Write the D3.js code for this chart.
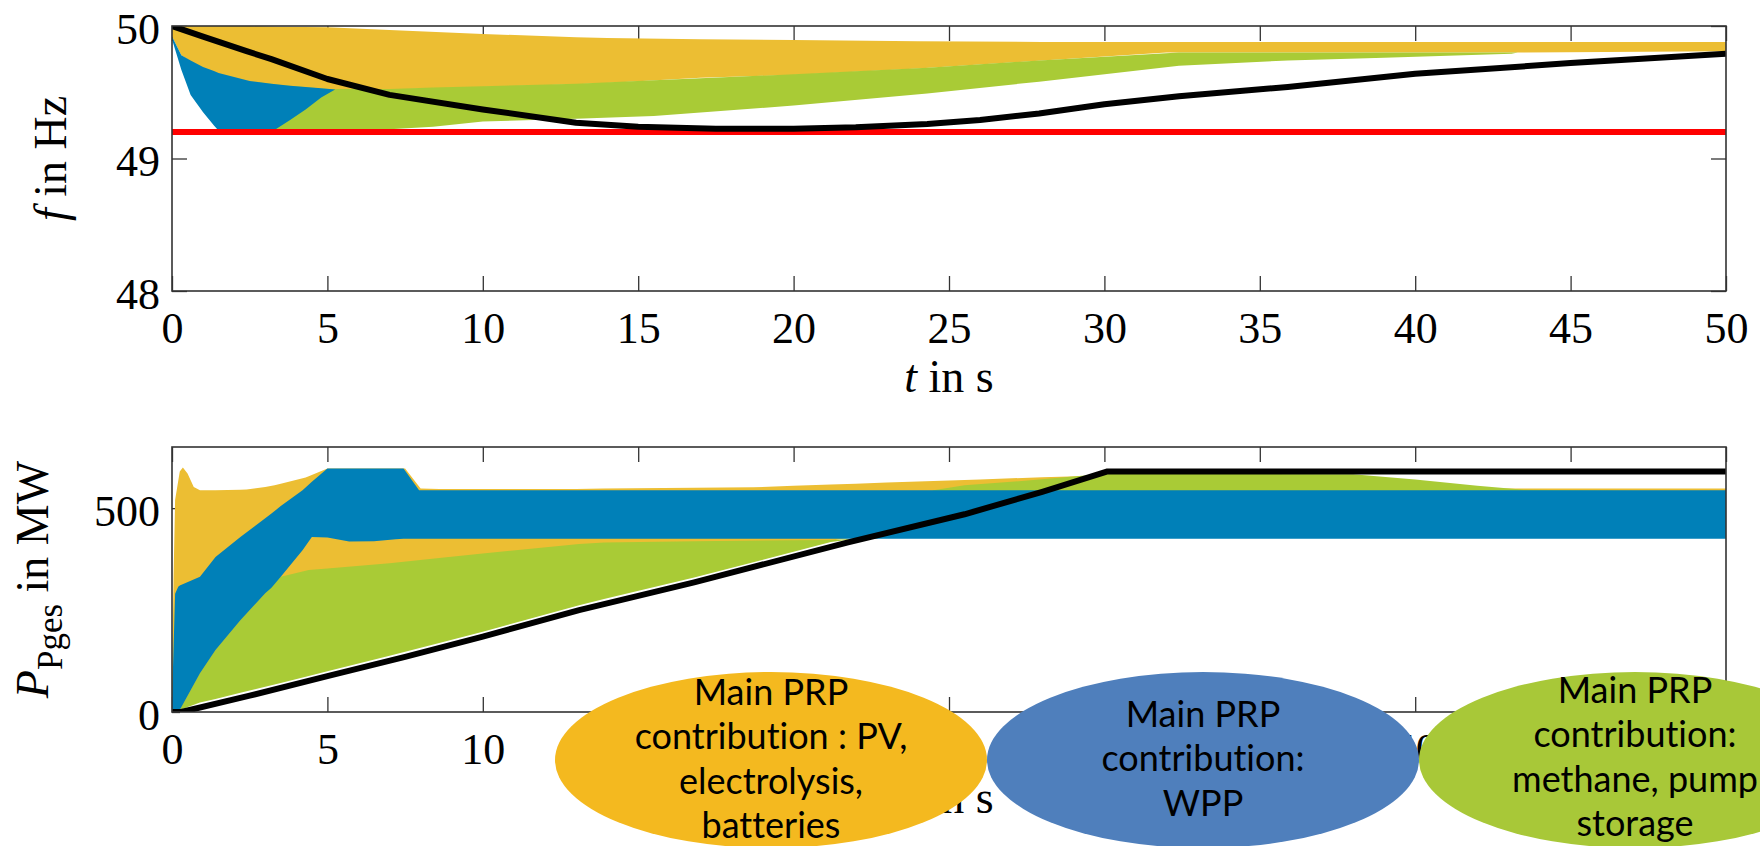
<!DOCTYPE html>
<html><head><meta charset="utf-8">
<script src="https://cdn.jsdelivr.net/npm/d3@7"></script>
<style>body{margin:0;background:#fff}svg{display:block}</style>
</head><body><svg id="c" width="1760" height="846"></svg>
<script>
// ---------------- DATA ----------------
const tTicks = [0, 5, 10, 15, 20, 25, 30, 35, 40, 45, 50];
const fTicks = [48, 49, 50];
const pTicks = [0, 500];
const fLimit = 49.2;

// Frequency panel (Hz) – bands of trajectories
const fOrangeT  = [0, 0.3, 0.8, 1.5, 2.5, 3.5, 5, 7, 10, 13, 14, 17, 20, 24, 28, 32, 36, 40, 43, 50];
const fOrangeHi = [50, 50, 50, 50, 50, 49.995, 49.99, 49.97, 49.94, 49.915, 49.91, 49.90, 49.895, 49.885, 49.88, 49.88, 49.88, 49.88, 49.88, 49.88];
const fOrangeLo = [49.92, 49.78, 49.70, 49.64, 49.58, 49.55, 49.52, 49.52, 49.54, 49.56, 49.57, 49.61, 49.63, 49.68, 49.74, 49.80, 49.80, 49.80, 49.80, 49.81];

const fGreenT  = [2.8, 3.5, 5, 7, 8.4, 10, 13, 15.5, 20, 24.3, 27.9, 32.4, 35.9, 39, 43.1, 43.3];
const fGreenHi = [49.575, 49.555, 49.525, 49.525, 49.535, 49.545, 49.565, 49.59, 49.635, 49.685, 49.74, 49.80, 49.80, 49.80, 49.80, 49.80];
const fGreenLo = [49.20, 49.20, 49.20, 49.22, 49.24, 49.28, 49.30, 49.32, 49.40, 49.49, 49.58, 49.70, 49.74, 49.76, 49.79, 49.80];

const fBlueT  = [0, 0.3, 0.6, 1.0, 1.35, 1.5, 2.5, 3.2, 3.8, 4.3, 4.8, 5.25];
const fBlueHi = [49.92, 49.78, 49.74, 49.69, 49.66, 49.645, 49.585, 49.565, 49.55, 49.54, 49.53, 49.52];
const fBlueLo = [49.90, 49.67, 49.48, 49.35, 49.25, 49.21, 49.20, 49.20, 49.29, 49.37, 49.46, 49.52];

const fBlackT = [0, 1, 2.4, 3.2, 5, 7, 10, 13, 15, 17.5, 20, 22, 24.3, 26, 27.9, 30, 32.4, 35.9, 40, 45, 50];
const fBlack  = [50.0, 49.92, 49.81, 49.75, 49.60, 49.48, 49.37, 49.27, 49.24, 49.225, 49.225, 49.235, 49.26, 49.29, 49.34, 49.41, 49.47, 49.54, 49.64, 49.72, 49.79];

// Power panel (MW)
const pOrangeT  = [0, 0.05, 0.1, 0.25, 0.35, 0.5, 0.7, 0.9, 1.4, 2.2, 2.4, 3.0, 3.3, 3.5, 4.3, 4.4, 5.0, 7.0, 7.5, 8.0, 8.6, 10, 13, 13.9, 16.8, 18.7, 20, 21.2, 22, 23, 26, 28, 30, 31, 50];
const pOrangeHi = [60, 330, 520, 590, 600, 585, 552, 544, 544, 545, 546, 552, 556, 560, 575, 578, 597, 597, 597, 548, 547, 547, 547, 548, 550, 551, 555, 558, 560, 563, 570, 576, 580, 548, 548];
const pOrangeLo = [0, 0, 0, 5, 12, 22, 28, 35, 45, 65, 68, 80, 86, 90, 108, 110, 120, 160, 170, 180, 190, 220, 288, 300, 380, 395, 405, 420, 430, 450, 450, 450, 450, 450, 450];

const pGreenT  = [0.25, 0.9, 1.4, 2.2, 3.0, 3.5, 4.4, 5, 7, 8.6, 10, 13.1, 13.9, 16.8, 20, 21.2, 22, 23, 24.5, 25.5, 27.9, 30.1, 34, 38, 40, 42, 43.5, 50];
const pGreenHi = [5, 95, 152, 225, 291, 332, 348, 352, 365, 378, 389, 412, 416, 419, 421, 422, 425, 470, 544, 556, 570, 585, 584, 583, 570, 555, 545, 540];
const pGreenLo = [5, 23, 32, 47, 62, 71, 88, 100, 138, 169, 197, 262, 277, 330, 393, 417, 425, 451, 479, 497, 540, 540, 540, 540, 540, 540, 540, 540];

const pBlueT  = [0, 0.1, 0.2, 0.25, 0.9, 1.4, 2.2, 3.0, 3.2, 3.5, 4.2, 4.5, 5.0, 5.7, 6.5, 7.2, 7.45, 7.95, 50];
const pBlueHi = [25, 290, 307, 310, 332, 380, 429, 475, 487, 505, 544, 565, 597, 597, 597, 597, 597, 544, 544];
const pBlueLo = [0, 0, 0, 5, 95, 152, 225, 291, 305, 332, 397, 429, 428, 418, 419, 424, 425, 425, 425];

const pBlackT = [0, 0.3, 2.5, 5, 7.5, 10, 13.1, 16.8, 21.75, 25.5, 28, 30.1, 50];
const pBlack  = [0, 0, 40, 88, 135, 185, 250, 318, 416, 485, 540, 590, 590];

// Annotation bubbles
const bubbleText = [
  ["Main PRP", "contribution : PV,", "electrolysis,", "batteries"],
  ["Main PRP", "contribution:", "WPP"],
  ["Main PRP", "contribution:", "methane, pump", "storage"]
];

// ---------------- DRAWING ----------------
const W = 1760, H = 846;
const C = {orange: "#ECBE33", green: "#A9CB36", blue: "#0080B8", black: "#000", red: "#FF0000"};
const serif = "'Liberation Serif', 'Times New Roman', serif";
const svg = d3.select("#c");
svg.append("rect").attr("width", W).attr("height", H).attr("fill", "#fff");

const x = d3.scaleLinear().domain([0, 50]).range([172, 1726]);
const yF = d3.scaleLinear().domain([48, 50]).range([291, 26]);
const yP = d3.scaleLinear().domain([0, 650]).range([712, 447]);

const zip = (t, lo, hi) => t.map((v, i) => ({t: v, lo: lo[i], hi: hi[i]}));
const pts = (t, v) => t.map((d, i) => ({t: d, v: v[i]}));

function panel(id, y, yTickVals, yTickLen) {
  const g = svg.append("g");
  const [y0, y1] = y.range(); // bottom, top
  const x0 = x.range()[0], x1 = x.range()[1];
  const styleAxis = a => {
    a.select(".domain").remove();
    a.selectAll(".tick line").attr("stroke", "#333").attr("stroke-width", 1.3);
    a.attr("font-family", serif).attr("font-size", 44);
    a.selectAll(".tick text").attr("fill", "#000");
  };
  const ax = g.append("g").attr("transform", `translate(0,${y0})`)
    .call(d3.axisBottom(x).tickValues(tTicks).tickSize(-15).tickSizeOuter(0).tickPadding(21).tickFormat(d3.format("d")));
  styleAxis(ax);
  const axT = g.append("g").attr("transform", `translate(0,${y1})`)
    .call(d3.axisTop(x).tickValues(tTicks).tickSize(-15).tickSizeOuter(0).tickFormat(""));
  styleAxis(axT);
  const ay = g.append("g").attr("transform", `translate(${x0},0)`)
    .call(d3.axisLeft(y).tickValues(yTickVals).tickSize(-yTickLen).tickSizeOuter(0).tickPadding(12).tickFormat(d3.format("d")));
  styleAxis(ay);
  ay.selectAll(".tick text").attr("dy", "0.39em");
  const ayR = g.append("g").attr("transform", `translate(${x1},0)`)
    .call(d3.axisRight(y).tickValues(yTickVals).tickSize(-yTickLen).tickSizeOuter(0).tickFormat(""));
  styleAxis(ayR);

  svg.append("clipPath").attr("id", id).append("rect")
    .attr("x", x0).attr("y", y1).attr("width", x1 - x0).attr("height", y0 - y1);
  const data = g.append("g").attr("clip-path", `url(#${id})`);
  return {g, data, frame: () => g.append("rect").attr("x", x0).attr("y", y1)
    .attr("width", x1 - x0).attr("height", y0 - y1)
    .attr("fill", "none").attr("stroke", "#333").attr("stroke-width", 1.6)};
}

function band(layer, y, d, color) {
  layer.append("path").datum(d).attr("fill", color).attr("stroke", "none")
    .attr("d", d3.area().x(p => x(p.t)).y0(p => y(p.lo)).y1(p => y(p.hi)));
}
function line(layer, y, d, color, w) {
  layer.append("path").datum(d).attr("fill", "none").attr("stroke", color)
    .attr("stroke-width", w).attr("stroke-linejoin", "round")
    .attr("d", d3.line().x(p => x(p.t)).y(p => y(p.v)));
}

// Top panel
const panelF = panel("clipTop", yF, fTicks, 15);
band(panelF.data, yF, zip(fOrangeT, fOrangeLo, fOrangeHi), C.orange);
band(panelF.data, yF, zip(fGreenT, fGreenLo, fGreenHi), C.green);
band(panelF.data, yF, zip(fBlueT, fBlueLo, fBlueHi), C.blue);
line(panelF.data, yF, pts([0, 50], [fLimit, fLimit]), C.red, 6);
line(panelF.data, yF, pts(fBlackT, fBlack), C.black, 6);
panelF.frame();

// Bottom panel
const panelP = panel("clipBot", yP, pTicks, 8);
band(panelP.data, yP, zip(pOrangeT, pOrangeLo, pOrangeHi), C.orange);
band(panelP.data, yP, zip(pGreenT, pGreenLo, pGreenHi), C.green);
band(panelP.data, yP, zip(pBlueT, pBlueLo, pBlueHi), C.blue);
line(panelP.data, yP, pts(pBlackT, pBlack), C.black, 6);
panelP.frame();

// Axis labels
function xLabel(yb) {
  const t = svg.append("text").attr("x", (x.range()[0] + x.range()[1]) / 2).attr("y", yb)
    .attr("text-anchor", "middle").attr("font-family", serif).attr("font-size", 46).attr("fill", "#000");
  t.append("tspan").attr("font-style", "italic").text("t");
  t.append("tspan").text(" in s");
}
xLabel(392);
xLabel(813);

const fl = svg.append("text").attr("transform", `translate(66,${(yF.range()[0] + yF.range()[1]) / 2}) rotate(-90)`)
  .attr("text-anchor", "middle").attr("font-family", serif).attr("font-size", 46).attr("fill", "#000");
fl.append("tspan").attr("font-style", "italic").text("f");
fl.append("tspan").text(" in Hz");

const pl = svg.append("text").attr("transform", `translate(48,${(yP.range()[0] + yP.range()[1]) / 2}) rotate(-90)`)
  .attr("text-anchor", "middle").attr("font-family", serif).attr("font-size", 46).attr("fill", "#000");
pl.append("tspan").attr("font-style", "italic").text("P");
pl.append("tspan").attr("font-size", 35).attr("dy", 14).text("Pges");
pl.append("tspan").attr("dy", -14).text(" in MW");

// Annotation bubbles
const bubbles = [
  {cx: 771, cy: 760, fill: "#F4B91F", first: 705, lines: bubbleText[0]},
  {cx: 1203, cy: 760, fill: "#4F7FBC", first: 727, lines: bubbleText[1]},
  {cx: 1635, cy: 760, fill: "#A8C838", first: 703, lines: bubbleText[2]}
];
bubbles.forEach(b => {
  svg.append("ellipse").attr("cx", b.cx).attr("cy", b.cy).attr("rx", 216).attr("ry", 88).attr("fill", b.fill);
  const t = svg.append("text").attr("text-anchor", "middle").attr("font-family", "Lato, 'Open Sans', sans-serif")
    .attr("font-size", 36).attr("fill", "#000")
    .style("font-variant-ligatures", "none").style("font-feature-settings", "'liga' 0, 'dlig' 0");
  b.lines.forEach((s, i) => t.append("tspan").attr("x", b.cx).attr("y", b.first + i * 44.3).text(s));
});
</script></body></html>
